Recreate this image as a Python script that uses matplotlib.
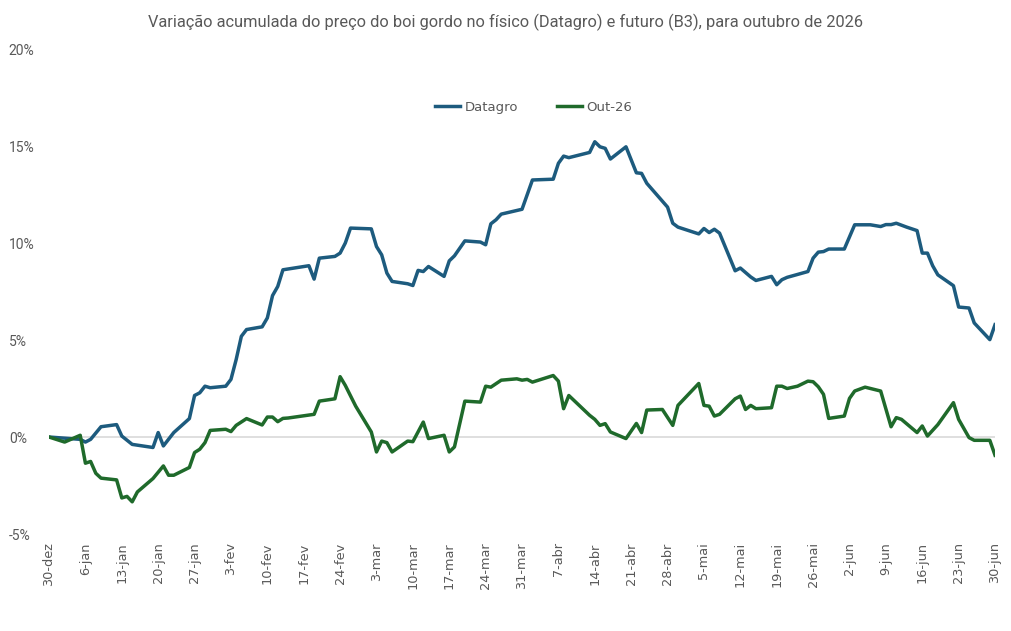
import pandas as pd
import matplotlib
matplotlib.use("Agg")
import matplotlib.pyplot as plt
from matplotlib.ticker import FuncFormatter

# Datagro (physical) - days since 30-dez-2025 and accumulated change (%)
datagro_days = [0, 6, 7, 8, 10, 13, 14, 16, 20, 21, 22, 24, 27, 28, 29, 30, 31, 34, 35, 36,
                37, 38, 41, 42, 43, 44, 45, 50, 51, 52, 55, 56, 57, 58, 62, 63, 64, 65, 66, 69,
                70, 71, 72, 73, 76, 77, 78, 80, 83, 84, 85, 86, 87, 91, 93, 97, 98, 99, 100, 104,
                105, 106, 107, 108, 111, 113, 114, 115, 119, 120, 121, 125, 126, 127, 128, 129, 132, 133, 135, 136,
                139, 140, 141, 142, 146, 147, 148, 149, 150, 153, 155, 158, 160, 161, 162, 163, 165, 167, 168, 169,
                170, 171, 174, 175, 177, 178, 181, 182]
datagro = [0, -0.12, -0.26, -0.12, 0.53, 0.64, 0.05, -0.38, -0.54, 0.23, -0.46, 0.23, 0.95, 2.14, 2.28, 2.62, 2.54, 2.62, 2.97, 3.99,
           5.19, 5.54, 5.68, 6.14, 7.29, 7.76, 8.62, 8.83, 8.14, 9.22, 9.31, 9.48, 10.0, 10.77, 10.73, 9.82, 9.39, 8.45, 8.02, 7.90,
           7.81, 8.59, 8.53, 8.79, 8.28, 9.08, 9.34, 10.11, 10.05, 9.91, 10.99, 11.2, 11.49, 11.74, 13.25, 13.29, 14.11, 14.48, 14.4, 14.67,
           15.22, 14.96, 14.88, 14.33, 14.96, 13.62, 13.59, 13.08, 11.85, 11.02, 10.82, 10.47, 10.75, 10.54, 10.71, 10.51, 8.57, 8.71, 8.25, 8.07,
           8.28, 7.85, 8.11, 8.23, 8.53, 9.22, 9.53, 9.56, 9.69, 9.69, 10.94, 10.94, 10.85, 10.95, 10.95, 11.02, 10.82, 10.64, 9.48, 9.48,
           8.83, 8.36, 7.8, 6.7, 6.65, 5.88, 5.02, 5.79]

# Out-26 (B3 futures)
out26_days = [0, 3, 6, 7, 8, 9, 10, 13, 14, 15, 16, 17, 20, 22, 23, 24, 27, 28, 29, 30,
              31, 34, 35, 36, 38, 41, 42, 43, 44, 45, 46, 51, 52, 55, 56, 57, 59, 62, 63, 64,
              65, 66, 69, 70, 72, 73, 76, 77, 78, 80, 83, 84, 85, 87, 90, 91, 92, 93, 97, 98,
              99, 100, 104, 105, 106, 107, 108, 111, 113, 114, 115, 118, 120, 121, 125, 126, 127, 128, 129, 132,
              133, 134, 135, 136, 139, 140, 141, 142, 144, 146, 147, 148, 149, 150, 153, 154, 155, 157, 160, 162,
              163, 164, 167, 168, 169, 171, 174, 175, 177, 178, 181, 182]
out26 = [0, -0.26, 0.09, -1.35, -1.26, -1.87, -2.12, -2.21, -3.14, -3.06, -3.34, -2.83, -2.14, -1.49, -1.97, -1.97, -1.57, -0.8, -0.63, -0.29,
         0.34, 0.4, 0.28, 0.6, 0.95, 0.62, 1.03, 1.03, 0.79, 0.96, 0.98, 1.17, 1.85, 1.97, 3.11, 2.66, 1.59, 0.26, -0.77, -0.21,
         -0.29, -0.77, -0.21, -0.24, 0.77, -0.08, 0.09, -0.77, -0.51, 1.85, 1.8, 2.62, 2.57, 2.93, 3.0, 2.93, 2.97, 2.83, 3.17, 2.88,
         1.46, 2.14, 1.12, 0.91, 0.6, 0.69, 0.26, -0.08, 0.7, 0.23, 1.39, 1.42, 0.6, 1.63, 2.76, 1.63, 1.59, 1.08, 1.17, 1.97,
         2.11, 1.42, 1.63, 1.46, 1.51, 2.62, 2.62, 2.5, 2.62, 2.88, 2.85, 2.59, 2.2, 0.96, 1.08, 1.99, 2.37, 2.57, 2.37, 0.53,
         1.0, 0.91, 0.23, 0.57, 0.05, 0.64, 1.77, 0.91, -0.03, -0.17, -0.17, -0.94]

tick_labels = ["30-dez", "6-jan", "13-jan", "20-jan", "27-jan", "3-fev", "10-fev", "17-fev", "24-fev",
               "3-mar", "10-mar", "17-mar", "24-mar", "31-mar", "7-abr", "14-abr", "21-abr", "28-abr",
               "5-mai", "12-mai", "19-mai", "26-mai", "2-jun", "9-jun", "16-jun", "23-jun", "30-jun"]
y_ticks = [-5, 0, 5, 10, 15, 20]

start = pd.Timestamp("2025-12-30")
d_dates = start + pd.to_timedelta(datagro_days, unit="D")
o_dates = start + pd.to_timedelta(out26_days, unit="D")
tick_dates = pd.date_range(start, periods=len(tick_labels), freq="7D")

narrow = ["Roboto", "DejaVu Sans"]
grey = "#595959"

fig = plt.figure(figsize=(10.11, 6.31), dpi=100)
ax = fig.add_axes([0.0485, 0.1537, 0.9357, 0.7686])

ax.axhline(0, color="#d9d9d9", lw=1.2, zorder=1)
ax.plot(d_dates, datagro, color="#1d5b7e", lw=2.5, label="Datagro", zorder=3)
ax.plot(o_dates, out26, color="#1f6a2b", lw=2.5, label="Out-26", zorder=3)

ax.set_xlim(start, tick_dates[-1])
ax.set_ylim(-5, 20)
ax.set_yticks(y_ticks)
ax.yaxis.set_major_formatter(FuncFormatter(lambda v, p: f"{v:.0f}%"))
ax.set_xticks(tick_dates)
ax.set_xticklabels(tick_labels, rotation=90, fontsize=9.3, color=grey)

for lab in ax.get_yticklabels():
    lab.set_family(narrow)
    lab.set_fontsize(10)
    lab.set_color(grey)
    lab.set_horizontalalignment("left")
ax.tick_params(axis="y", length=0, pad=29)
ax.tick_params(axis="x", length=0, pad=6)

for s in ax.spines.values():
    s.set_visible(False)

fig.text(0.5, 0.965, "Variação acumulada do preço do boi gordo no físico (Datagro) e futuro (B3), para outubro de 2026",
         ha="center", va="center", fontsize=11.8, color=grey, family=narrow)

leg = fig.legend(loc="center", bbox_to_anchor=(0.528, 0.83), ncol=2, frameon=False,
                 fontsize=9.5, handlelength=1.9, columnspacing=3.0, handletextpad=0.3)
for t in leg.get_texts():
    t.set_color(grey)

fig.savefig("out.png", dpi=100)
